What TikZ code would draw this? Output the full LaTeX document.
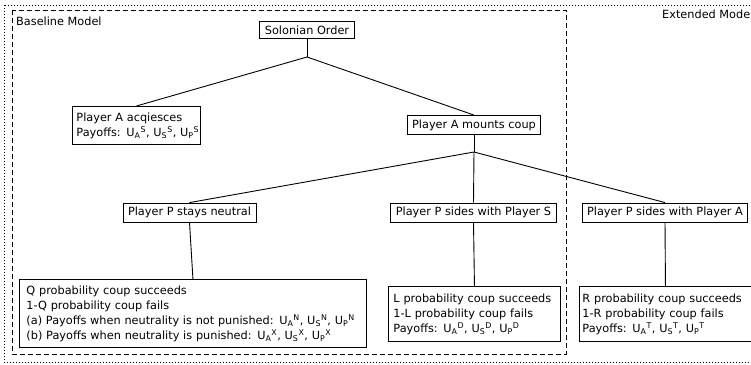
\documentclass[tikz,border=0pt]{standalone}
\usepackage{fontspec}
\setmainfont{DejaVu Sans}
\begin{document}
\begin{tikzpicture}[x=1pt,y=1pt,
  every node/.style={font=\fontsize{11.3}{15}\selectfont, text=black},
  box/.style={draw=black, line width=0.9pt, inner xsep=5pt, inner ysep=4pt, fill=white},
  mbox/.style={box, align=left, anchor=north west, inner xsep=0pt, inner ysep=0pt},
  conn/.style={draw=black, line width=0.9pt},
  lbl/.style={inner sep=0pt, anchor=base west},
  dottedframe/.style={line width=0.9pt, dash pattern=on 1.2pt off 1.8pt},
  dashedframe/.style={line width=0.9pt, dash pattern=on 5pt off 3pt}
]
\useasboundingbox (0,0) rectangle (751,-364);
\clip (0,0) rectangle (751,-364);
% frames
\draw[dottedframe] (4,-5) rectangle (770,-362);
\draw[dashedframe] (12,-10) rectangle (566,-354);
\node[lbl] (baseline) at (16,-25) {Baseline Model};
\node[lbl] (extended) at (662,-18) {Extended Model};
% nodes
\node[box] (solon) at (307,-30) {Solonian Order};
\node[mbox, minimum width=128pt, minimum height=38pt, text width=128pt] (acq) at (72,-106)
  {\hspace*{4pt}\parbox{124pt}{Player A acqiesces\\Payoffs: U\textsubscript{A}\textsuperscript{S}, U\textsubscript{S}\textsuperscript{S}, U\textsubscript{P}\textsuperscript{S}}};
\node[box] (coup) at (474,-125) {Player A mounts coup};
\node[box] (neutral) at (189.5,-212.5) {Player P stays neutral};
\node[box] (sideS) at (473.5,-212.5) {Player P sides with Player S};
\node[box] (sideA) at (665,-212.5) {Player P sides with Player A};
\node[mbox, minimum width=347pt, minimum height=68pt, text width=347pt] (Q) at (19,-279)
  {\hspace*{7pt}\parbox{338pt}{Q probability coup succeeds\\
   1-Q probability coup fails\\
   (a) Payoffs when neutrality is not punished: U\textsubscript{A}\textsuperscript{N}, U\textsubscript{S}\textsuperscript{N}, U\textsubscript{P}\textsuperscript{N}\\
   (b) Payoffs when neutrality is punished: U\textsubscript{A}\textsuperscript{X}, U\textsubscript{S}\textsuperscript{X}, U\textsubscript{P}\textsuperscript{X}}};
\node[mbox, minimum width=172pt, minimum height=55pt, text width=172pt] (L) at (388,-286)
  {\hspace*{5pt}\parbox{165pt}{L probability coup succeeds\\
   1-L probability coup fails\\
   Payoffs: U\textsubscript{A}\textsuperscript{D}, U\textsubscript{S}\textsuperscript{D}, U\textsubscript{P}\textsuperscript{D}}};
\node[mbox, minimum width=172pt, minimum height=55pt, text width=172pt] (R) at (579,-286)
  {\hspace*{3pt}\parbox{168pt}{R probability coup succeeds\\
   1-R probability coup fails\\
   Payoffs: U\textsubscript{A}\textsuperscript{T}, U\textsubscript{S}\textsuperscript{T}, U\textsubscript{P}\textsuperscript{T}}};
% junctions
\coordinate (j1) at (307,-57);
\coordinate (j2) at (474,-152);
% connectors
\draw[conn] (solon.south) -- (j1);
\draw[conn] (j1) -- (acq.north);
\draw[conn] (j1) -- (coup.north);
\draw[conn] (coup.south) -- (j2);
\draw[conn] (j2) -- (neutral.north);
\draw[conn] (j2) -- (sideS.north);
\draw[conn] (j2) -- (sideA.north);
\draw[conn] (neutral.south) -- (Q.north);
\draw[conn] (sideS.south) -- (L.north);
\draw[conn] (sideA.south) -- (R.north);
\end{tikzpicture}
\end{document}
